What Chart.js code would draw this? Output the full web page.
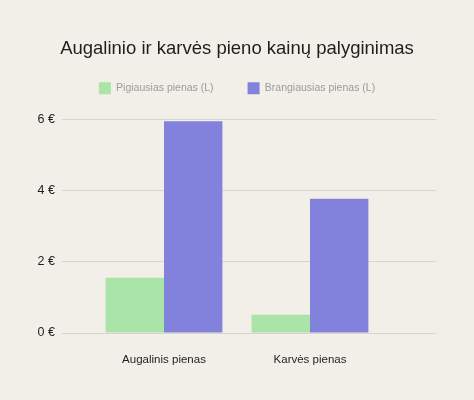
<!DOCTYPE html>
<html>
<head>
<meta charset="utf-8">
<script src="https://cdn.jsdelivr.net/npm/chart.js@4"></script>
<style>
  html, body { margin: 0; padding: 0; background: #f2efe9; }
  #wrap { width: 474px; height: 400px; }
</style>
</head>
<body>
<div id="wrap"><canvas id="myChart"></canvas></div>
<script>
const categories = ['Augalinis pienas', 'Karvės pienas'];
const cheapest = [1.55, 0.51];
const priciest = [5.94, 3.77];
const seriesNames = ['Pigiausias pienas (L)', 'Brangiausias pienas (L)'];
const yMin = 0, yMax = 6, yStep = 2;

Chart.defaults.font.family = '"Liberation Sans", Arial, sans-serif';

const barData = {
    labels: categories,
    datasets: [{
        label: seriesNames[0],
        data: cheapest,
        backgroundColor: '#aae4a8',
        borderWidth: 0,
        categoryPercentage: 0.8,
        barPercentage: 1.0
    }, {
        label: seriesNames[1],
        data: priciest,
        backgroundColor: '#8282dc',
        borderWidth: 0,
        categoryPercentage: 0.8,
        barPercentage: 1.0
    }]
};

const gridColor = '#d9d5ce';

const barConfig = {
    type: 'bar',
    data: barData,
    options: {
        responsive: true,
        maintainAspectRatio: false,
        animation: false,
        layout: { padding: 0 },
        plugins: {
            title: {
                display: true,
                text: 'Augalinio ir karvės pieno kainų palyginimas',
                color: '#1e1e1e',
                font: { size: 18.5, weight: 'normal', lineHeight: 1.2 },
                padding: { top: 38, bottom: -12 }
            },
            legend: {
                position: 'top',
                labels: {
                    color: '#9b9b9b',
                    font: { size: 10.5 },
                    boxWidth: 12,
                    boxHeight: 12,
                    padding: 34
                }
            },
            tooltip: { enabled: false }
        },
        scales: {
            x: {
                grid: { display: false },
                border: { display: false },
                ticks: { color: '#1e1e1e', font: { size: 11.5 }, padding: 12 },
                afterFit: (s) => { s.height = 67; }
            },
            // empty strip between legend and plot
            xGap: {
                position: 'top',
                grid: { display: false },
                border: { display: false },
                ticks: { display: false },
                afterFit: (s) => { s.height = 15; }
            },
            y: {
                min: yMin,
                max: yMax,
                border: { display: false },
                grid: { color: gridColor, tickLength: 29, drawTicks: true, tickColor: gridColor },
                ticks: {
                    stepSize: yStep,
                    color: '#1e1e1e',
                    font: { size: 12.5 },
                    padding: 7,
                    callback: (v) => v + ' €'
                },
                afterFit: (s) => { s.width = 91; }
            },
            yRight: {
                position: 'right',
                min: yMin,
                max: yMax,
                border: { display: false },
                grid: { color: gridColor, tickColor: gridColor, drawOnChartArea: false, drawTicks: true, tickLength: 53 },
                ticks: { stepSize: yStep, display: false },
                afterFit: (s) => { s.width = 91; }
            }
        }
    }
};

var barChart = new Chart(document.getElementById('myChart'), barConfig);
</script>
</body>
</html>
